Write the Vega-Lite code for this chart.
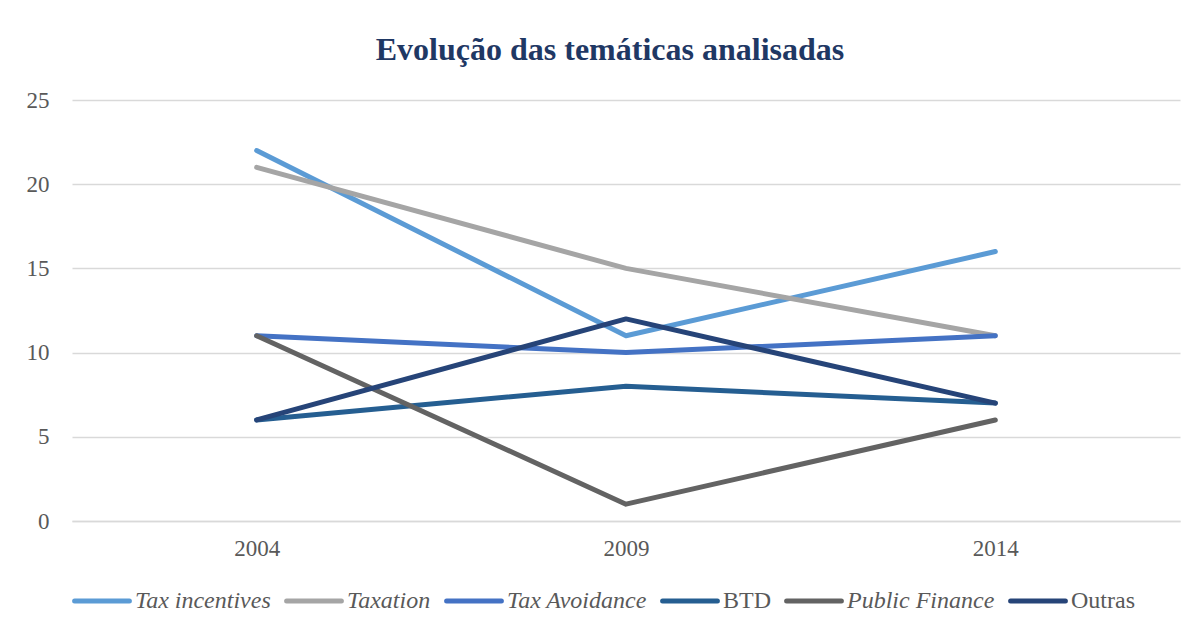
{
  "$schema": "https://vega.github.io/schema/vega-lite/v6.json",
  "width": 1108,
  "height": 421,
  "autosize": {"type": "none"},
  "padding": {"left": 72, "top": 100, "right": 18, "bottom": 109},
  "background": "white",
  "title": {
    "text": "Evolução das temáticas analisadas",
    "font": "Liberation Serif",
    "fontSize": 32,
    "fontWeight": "bold",
    "color": "#1F3864",
    "anchor": "middle",
    "dx": -16,
    "offset": 22
  },
  "data": {
    "values": [
      {"ano": "2004", "tema": "Tax incentives", "valor": 22},
      {"ano": "2009", "tema": "Tax incentives", "valor": 11},
      {"ano": "2014", "tema": "Tax incentives", "valor": 16},
      {"ano": "2004", "tema": "Taxation", "valor": 21},
      {"ano": "2009", "tema": "Taxation", "valor": 15},
      {"ano": "2014", "tema": "Taxation", "valor": 11},
      {"ano": "2004", "tema": "Tax Avoidance", "valor": 11},
      {"ano": "2009", "tema": "Tax Avoidance", "valor": 10},
      {"ano": "2014", "tema": "Tax Avoidance", "valor": 11},
      {"ano": "2004", "tema": "BTD", "valor": 6},
      {"ano": "2009", "tema": "BTD", "valor": 8},
      {"ano": "2014", "tema": "BTD", "valor": 7},
      {"ano": "2004", "tema": "Public Finance", "valor": 11},
      {"ano": "2009", "tema": "Public Finance", "valor": 1},
      {"ano": "2014", "tema": "Public Finance", "valor": 6},
      {"ano": "2004", "tema": "Outras", "valor": 6},
      {"ano": "2009", "tema": "Outras", "valor": 12},
      {"ano": "2014", "tema": "Outras", "valor": 7}
    ]
  },
  "mark": {"type": "line", "strokeWidth": 5, "strokeCap": "round", "strokeJoin": "round"},
  "encoding": {
    "x": {
      "field": "ano",
      "type": "ordinal",
      "scale": {"padding": 0.5},
      "axis": {
        "title": null,
        "labelAngle": 0,
        "labelFont": "Liberation Serif",
        "labelFontSize": 23,
        "labelColor": "#595959",
        "labelPadding": 16,
        "ticks": false,
        "domain": true,
        "domainColor": "#D9D9D9",
        "domainWidth": 1.5
      }
    },
    "y": {
      "field": "valor",
      "type": "quantitative",
      "scale": {"domain": [0, 25], "nice": false},
      "axis": {
        "title": null,
        "values": [0, 5, 10, 15, 20, 25],
        "labelFont": "Liberation Serif",
        "labelFontSize": 23,
        "labelColor": "#595959",
        "labelPadding": 23,
        "ticks": false,
        "domain": false,
        "grid": true,
        "gridColor": "#D9D9D9",
        "gridWidth": 1.5
      }
    },
    "color": {
      "field": "tema",
      "type": "nominal",
      "sort": ["Tax incentives", "Taxation", "Tax Avoidance", "BTD", "Public Finance", "Outras"],
      "scale": {
        "domain": ["Tax incentives", "Taxation", "Tax Avoidance", "BTD", "Public Finance", "Outras"],
        "range": ["#5B9BD5", "#A5A5A5", "#4472C4", "#255E91", "#636363", "#264478"]
      },
      "legend": {
        "title": null,
        "orient": "bottom",
        "direction": "horizontal",
        "columns": 6,
        "symbolType": "stroke",
        "symbolSize": 3000,
        "symbolStrokeWidth": 5,
        "labelFont": "Liberation Serif",
        "labelFontSize": 24,
        "labelColor": "#595959",
        "labelOffset": 3,
        "columnPadding": 5,
        "offset": 11,
        "labelLimit": 300,
        "encode": {
          "labels": {
            "update": {
              "font": {"value": "Liberation Serif"},
              "fontSize": {"value": 24},
              "fill": {"value": "#595959"},
              "fontStyle": {"signal": "indexof(['BTD','Outras'], datum.value) >= 0 ? 'normal' : 'italic'"}
            }
          },
          "symbols": {
            "update": {"strokeCap": {"value": "round"}}
          }
        }
      }
    }
  },
  "config": {
    "view": {"stroke": null},
    "legend": {"labelFont": "Liberation Serif", "labelFontSize": 24}
  }
}
